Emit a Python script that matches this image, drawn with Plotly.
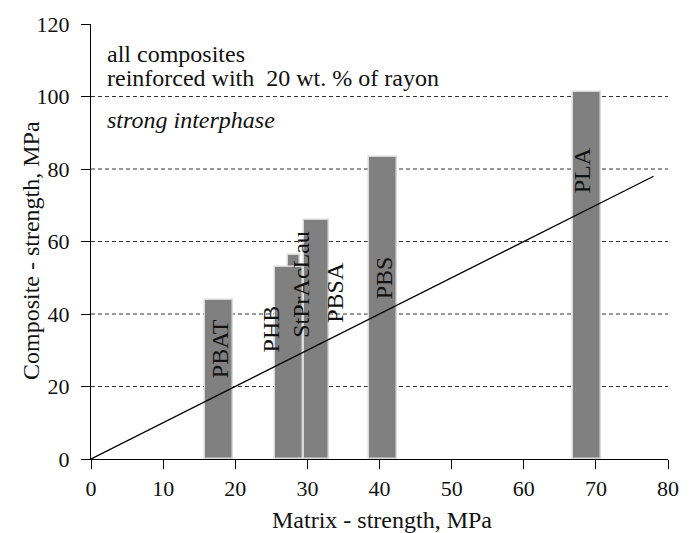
import plotly.graph_objects as go

# Matrix tensile strength (x) vs. composite strength (y), MPa
polymers = ["PBAT", "StPrAcLau", "PHB", "PBSA", "PBS", "PLA"]
matrix_strength = [17.75, 28.15, 27.4, 31.3, 40.45, 68.8]
composite_strength = [44, 56.4, 53, 66, 83.3, 101.2]
bar_widths = [4.0, 1.7, 3.9, 3.4, 3.9, 3.9]

# label anchor points for the rotated bar names
label_x = [17.8, 29.0, 24.9, 33.9, 40.65, 68.2]
label_y = [30.4, 48.1, 35.9, 46.0, 49.9, 79.6]

# reference line composite = matrix
ref_x = [0, 78]
ref_y = [0, 78]

x_ticks = [0, 10, 20, 30, 40, 50, 60, 70, 80]
y_ticks = [0, 20, 40, 60, 80, 100, 120]
grid_y = [20, 40, 60, 80, 100]

FONT = "Liberation Serif"
INK = "#111111"

fig = go.Figure()

fig.add_trace(go.Bar(
    x=matrix_strength,
    y=composite_strength,
    width=bar_widths,
    marker=dict(color="#808080", line=dict(color="#dadada", width=1.5)),
    showlegend=False,
    hoverinfo="skip",
))

fig.add_trace(go.Scatter(
    x=ref_x, y=ref_y, mode="lines",
    line=dict(color="#000000", width=1.3),
    showlegend=False, hoverinfo="skip",
))

# dashed horizontal grid
for gy in grid_y:
    fig.add_shape(type="line", xref="x", yref="y", x0=0, x1=80, y0=gy, y1=gy,
                  line=dict(color="#333333", width=1, dash="4px,3px"), layer="below")

annotations = []
for name, lx, ly in zip(polymers, label_x, label_y):
    annotations.append(dict(
        x=lx, y=ly, xref="x", yref="y", text=name, showarrow=False,
        textangle=-90, xanchor="center", yanchor="middle",
        font=dict(family=FONT, size=24, color=INK),
    ))

notes = [
    ("all composites", 111.8),
    ("reinforced with\u00a0 20 wt. % of rayon", 105.0),
    ("<i>strong interphase</i>", 93.5),
]
for txt, ny in notes:
    annotations.append(dict(
        x=1.9, y=ny, xref="x", yref="y", text=txt, showarrow=False,
        xanchor="left", yanchor="middle",
        font=dict(family=FONT, size=24, color=INK),
    ))

# axis titles
annotations.append(dict(
    x=0.505, y=-0.141, xref="paper", yref="paper",
    text="Matrix - strength, MPa", showarrow=False,
    xanchor="center", yanchor="middle",
    font=dict(family=FONT, size=24, color=INK),
))
annotations.append(dict(
    x=-0.105, y=0.479, xref="paper", yref="paper",
    text="Composite - strength, MPa", showarrow=False, textangle=-90,
    xanchor="center", yanchor="middle",
    font=dict(family=FONT, size=24, color=INK),
))

fig.update_layout(
    width=698, height=533,
    margin=dict(l=91, r=30, t=24, b=74),
    paper_bgcolor="white", plot_bgcolor="white",
    font=dict(family=FONT, size=22, color=INK),
    annotations=annotations,
    bargap=0,
    xaxis=dict(
        range=[0, 80], tickvals=x_ticks, ticktext=[str(v) for v in x_ticks],
        showgrid=False, zeroline=False,
        showline=True, linecolor="#000000", linewidth=1.3,
        ticks="outside", ticklen=9, tickwidth=1.3, tickcolor="#000000",
        tickfont=dict(family=FONT, size=22, color=INK),
    ),
    yaxis=dict(
        range=[0, 120], tickvals=y_ticks, ticktext=[str(v) for v in y_ticks],
        showgrid=False, zeroline=False,
        showline=True, linecolor="#000000", linewidth=1.3,
        ticks="outside", ticklen=9, tickwidth=1.3, tickcolor="#000000",
        ticklabelstandoff=7,
        tickfont=dict(family=FONT, size=22, color=INK),
    ),
)

fig.write_html("out.html")
